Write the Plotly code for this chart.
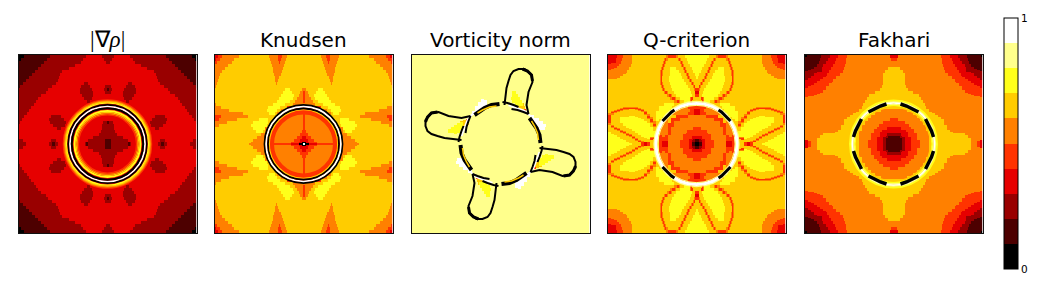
import numpy as np
import plotly.graph_objects as go

titles = ["|∇<i>ρ</i>|", "Knudsen", "Vorticity norm", "Q-criterion", "Fakhari"]
level_colors = ["#000000", "#4d0000", "#990000", "#e60000", "#ff3300",
                "#ff8000", "#ffcc00", "#ffff1a", "#ffff8c", "#ffffff"]
colorbar_ticks = [0, 1]
colorbar_labels = ["0", "1"]

# Each string is one band of a quadrant, written as level:end-column runs.
rho_rows = [
    "0:5 1:31 2:67 3:83 2:89", "0:2 1:28 2:64 3:85 2:89", "1:25 2:62 3:87 2:89",
    "1:22 2:56 3:89", "1:19 2:50 3:89", "1:16 2:43 3:89", "1:13 2:41 3:89",
    "1:10 2:40 3:89", "1:7 2:39 3:89", "1:4 2:37 3:65 2:69 3:89",
    "1:1 2:33 3:62 2:71 3:86 2:89", "2:29 3:61 2:73 3:85 2:88 1:89",
    "2:27 3:61 2:74 3:86 2:89", "2:22 3:63 2:74 3:89", "2:19 3:65 2:73 3:89",
    "2:17 3:68 2:71 3:89", "2:15 3:89", "2:12 3:89", "2:10 3:89", "2:8 3:89",
    "2:5 3:32 2:42 3:89", "2:3 3:30 2:45 3:89", "2:1 3:31 2:47 3:84 2:88 1:89",
    "3:34 2:46 3:83 2:89", "3:38 2:42 3:83 2:89", "3:82 2:89", "3:80 2:89",
    "3:74 2:89", "2:4 3:32 2:37 3:69 2:86 1:89",
    "2:7 3:30 2:33 1:36 2:39 3:66 2:67 1:69 2:86 1:89",
]
knudsen_rows = [
    "3:3 4:7 5:24 6:54 5:63 4:67 5:72 6:89", "3:1 4:5 5:19 6:55 5:63 4:66 5:71 6:89",
    "4:2 5:17 6:56 5:64 4:65 5:70 6:89", "5:13 6:57 5:69 6:89", "5:10 6:58 5:68 6:89",
    "5:7 6:58 5:67 6:89", "5:5 6:59 5:66 6:89", "5:4 6:60 5:64 6:89",
    "5:3 6:60 5:63 6:89", "5:2 6:61 5:62 6:89", "5:1 6:89", "6:70 7:75 6:87 5:89",
    "6:68 7:77 6:85 5:88 4:89", "6:66 7:79 6:84 5:88 4:89", "6:64 7:78 6:82 5:88 4:89",
    "6:62 7:75 6:80 5:88 4:89", "5:1 6:58 7:70 6:78 5:89", "5:6 6:53 7:65 6:72 4:89",
    "5:14 6:52 7:62 6:66 5:80 4:89", "5:28 6:54 7:60 6:62 5:88 4:89", "4:6 5:33 6:64 5:88 4:89",
    "4:4 5:22 6:44 7:53 6:60 5:88 4:89", "5:12 6:38 7:53 6:58 5:88 4:89",
    "5:4 6:36 7:52 6:56 5:88 4:89",
    "6:38 7:50 5:88 4:89", "6:41 7:48 6:50 5:87 4:89", "6:46 5:85 4:89", "6:42 5:82 4:87 3:89",
    "6:38 5:52 4:58 5:79 4:85 3:89", "6:36 5:52 4:58 5:76 4:84 3:87 0:89",
    "6:34 5:52 4:76 3:84 0:88 9:89",
]
knudsen_heights = [3] * 29 + [1, 1]
vorticity_rows = ["8:89"] * 12 + [
    "8:11 7:15 8:89", "8:11 7:17 8:89", "8:10 7:19 8:89", "8:11 7:21 8:89",
    "8:14 7:22 6:23 8:89", "8:17 6:24 8:89", "8:19 6:23 4:25 8:89", "8:89",
    "8:29 9:33 8:89", "8:30 9:38 8:89", "8:32 9:42 8:89", "8:34 9:45 8:89",
    "8:38 9:44 8:89", "8:89", "8:89", "8:89", "8:89", "8:89",
]
qcrit_rows = [
    "3:9 4:15 5:24 6:58 5:60 4:68 5:70 6:77 7:89",
    "3:8 4:14 5:24 6:56 5:57 4:58 5:60 6:70 5:71 4:72 5:73 6:79 7:89",
    "3:8 4:13 5:24 6:55 5:56 4:57 5:58 6:72 5:73 4:74 5:75 6:80 7:89",
    "4:11 5:23 6:54 5:55 4:56 5:57 6:73 5:74 4:75 5:76 6:82 7:89",
    "5:21 6:53 5:54 4:55 5:56 6:62 7:68 6:75 5:76 4:77 5:78 6:84 7:89",
    "5:19 6:52 5:53 4:54 5:55 6:62 7:71 6:76 5:77 4:78 5:79 6:85 7:89",
    "5:16 6:52 5:53 4:54 5:55 6:62 7:73 6:78 5:79 4:80 5:81 6:87 7:89",
    "6:52 5:53 4:54 6:61 7:74 6:79 5:80 4:81 5:82 6:88 7:89",
    "6:52 5:53 4:54 6:61 7:76 6:81 5:82 4:83 5:84 6:89",
    "6:52 5:53 4:54 5:55 6:62 7:78 6:83 5:84 4:85 5:86 6:89",
    "6:53 5:54 4:55 5:56 6:63 7:80 6:85 5:86 4:87 6:89",
    "6:54 5:55 4:56 5:57 6:64 7:82 6:86 5:87 4:89",
    "6:56 5:57 4:59 5:60 6:66 7:83 6:87 3:89",
    "6:59 5:61 4:63 5:64 6:68 7:84 6:87 4:89",
    "6:62 5:64 4:67 5:68 6:72 7:82 5:83 4:85 6:89",
    "6:66 5:69 4:71 5:72 6:76 7:82 5:83 4:84 6:89",
    "6:56 7:66 6:89", "7:64 6:72 5:80 4:89", "7:62 6:66 5:82 4:86 3:89",
    "7:60 5:80 4:86 3:89", "6:68 4:80 5:89", "4:72 5:89", "5:89", "5:89",
    "5:85 4:89", "5:79 4:89", "4:89", "4:84 3:89", "3:85 2:87 1:89", "2:86 1:87 0:89",
]
fakhari_rows = [
    "0:2 1:16 2:25 3:33 4:42 5:85 3:89", "1:15 2:23 3:31 4:41 5:86 4:89",
    "1:14 2:21 3:30 4:41 5:89", "1:12 2:18 3:28 4:40 5:89", "2:17 3:26 4:39 5:83 6:89",
    "2:17 3:24 4:38 5:80 6:89", "3:22 4:35 5:78 6:89", "4:31 5:78 6:89", "4:28 5:78 6:89",
    "5:78 6:89", "5:77 6:89", "5:75 6:89", "5:70 6:89", "5:64 6:89", "5:62 6:89",
    "5:60 6:89", "5:58 6:89", "5:57 6:89", "6:76 5:89", "6:70 5:89", "6:66 5:89",
    "5:85 4:89", "5:78 4:89", "5:74 4:89", "4:82 3:89", "4:77 3:89", "3:82 2:89",
    "2:83 1:89", "1:89", "1:89",
]

# Concentric bands: radius, stroke width, colour level, outermost first.
rho_ring_r = [44, 43, 42, 41, 39.2, 37.5, 35.7, 33, 31.5, 30.2, 29]
rho_ring_w = [1.5, 1.5, 1.5, 1.2, 1.7, 1.7, 2, 2, 1.3, 1.3, 1.2]
rho_ring_l = [4, 5, 6, 7, 0, 9, 0, 7, 6, 5, 4]
knudsen_ring_r = [39, 37.3, 35.5, 34, 31.5]
knudsen_ring_w = [1.8, 1.8, 1.8, 1.2, 4]
knudsen_ring_l = [0, 9, 0, 6, 4]
qcrit_ring_r = [42.4, 40.5, 38.6]
qcrit_ring_w = [1.5, 3, 1]
qcrit_ring_l = [8, 9, 8]
fakhari_ring_r = [43.5, 42, 41, 39.5, 38.5, 37]
fakhari_ring_w = [2, 1.5, 1.5, 1.5, 1.5, 1.5]
fakhari_ring_l = [7, 8, 9, 8, 7, 6]

# Dark dashes, one quadrant of each, as (column, row) readings.
qcrit_dash_x = [55, 58, 61, 64, 67]
qcrit_dash_y = [66, 63, 60, 57, 55]
fakhari_dash_a_x = [64, 70, 76, 82]
fakhari_dash_a_y = [57, 54, 51, 49]
fakhari_dash_b_x = [49, 51, 54, 57]
fakhari_dash_b_y = [82, 76, 70, 64]

# Vorticity overlay: offset right of centre, row from the top, one lobe.
lobe_x = [4, 5, 6, 8, 10, 13, 18, 24, 31, 32, 28, 26, 28]
lobe_y = [50, 42, 33, 26, 20, 16, 14, 14, 20, 27, 37, 50, 59]
lobe_thick_x = [22, 27, 31, 32]
lobe_thick_y = [14, 16, 20, 26]
white_arc_x = [8, 16, 24, 30]
white_arc_y = [50, 53, 56, 61]
arc_a_x = [2, 7, 13, 18]
arc_a_y = [47, 48, 50, 52]
arc_b_x = [11, 17, 23, 28]
arc_b_y = [54, 55, 57, 59]
arc_c_x = [29, 33, 36, 39, 40]
arc_c_y = [63, 68, 73, 80, 88]
arc_core_x = [31, 34, 37, 38]
arc_core_y = [66, 71, 78, 85]

PANEL_LEFT = [18.5, 214.5, 411.5, 607.5, 804.5]
PANEL = 178
C = PANEL / 2
W, H = 1041, 288
TOP, BOTTOM = 55, 233


def quadrant(rows, diagonal=False, heights=None):
    q = np.zeros((89, 89), dtype=int)
    heights = heights or [3] * len(rows)
    start = 0
    for row, h in zip(rows, heights):
        col = 0
        cells = np.zeros(89, dtype=int)
        for run in row.split():
            lev, end = run.split(":")
            cells[col:int(end)] = int(lev)
            col = max(col, int(end))
        if col < 89:
            cells[col:] = cells[col - 1]
        q[start:min(start + h, 89)] = cells
        start += h
    if diagonal:
        low = np.tril_indices(89, -1)
        q[low] = q.T[low]
    return q


def mirrored(q):
    top = np.hstack([q, q[:, ::-1]])
    return np.vstack([top, top[::-1]])


def rotated(tr):
    top = np.hstack([np.rot90(tr, 1), tr])
    bottom = np.hstack([np.rot90(tr, 2), np.rot90(tr, -1)])
    return np.vstack([top, bottom])


grids = [
    mirrored(quadrant(rho_rows)),
    mirrored(quadrant(knudsen_rows, heights=knudsen_heights)),
    rotated(quadrant(vorticity_rows)),
    mirrored(quadrant(qcrit_rows, True)),
    mirrored(quadrant(fakhari_rows, True)),
]

scale = []
for i, c in enumerate(level_colors):
    scale += [[i / 10, c], [(i + 1) / 10, c]]

fig = go.Figure()
centers = np.arange(PANEL) + 0.5
shapes = []
annotations = []
layout_axes = {}
for k, (left, grid) in enumerate(zip(PANEL_LEFT, grids)):
    n = "" if k == 0 else str(k + 1)
    fig.add_trace(go.Heatmap(z=(grid + 0.5) / 10, x=centers, y=centers, coloraxis="coloraxis",
                             xaxis="x" + n, yaxis="y" + n, hoverinfo="skip"))
    common = dict(showline=True, mirror=True, linecolor="#111111", linewidth=1, ticks="",
                  showticklabels=False, showgrid=False, zeroline=False)
    layout_axes["xaxis" + n] = dict(domain=[left / W, (left + PANEL) / W], range=[0, PANEL],
                                    anchor="y" + n, **common)
    layout_axes["yaxis" + n] = dict(domain=[(H - BOTTOM) / H, (H - TOP) / H], range=[PANEL, 0],
                                    anchor="x" + n, **common)
    serif = k == 0
    annotations.append(dict(text=titles[k], xref="paper", yref="paper", x=(left + C) / W,
                            y=(H - 54) / H, xanchor="center", yanchor="bottom", showarrow=False,
                            font=dict(size=23 if serif else 20, color="black",
                                      family="Liberation Serif" if serif else "DejaVu Sans")))


def add_rings(k, radii, widths, levels):
    n = "" if k == 0 else str(k + 1)
    for r, w, l in zip(radii, widths, levels):
        shapes.append(dict(type="circle", xref="x" + n, yref="y" + n, x0=C - r, x1=C + r,
                           y0=C - r, y1=C + r, line=dict(color=level_colors[l], width=w),
                           fillcolor="rgba(0,0,0,0)", layer="above"))


def add_dash(k, xs, ys, width):
    n = "" if k == 0 else str(k + 1)
    for fx in (False, True):
        for fy in (False, True):
            px = [PANEL - x if fx else x for x in xs]
            py = [PANEL - y if fy else y for y in ys]
            path = "M " + " L ".join(f"{a} {b}" for a, b in zip(px, py))
            shapes.append(dict(type="path", xref="x" + n, yref="y" + n, path=path,
                               line=dict(color="black", width=width), layer="above"))


add_rings(0, rho_ring_r, rho_ring_w, rho_ring_l)
add_rings(1, knudsen_ring_r, knudsen_ring_w, knudsen_ring_l)
add_rings(3, qcrit_ring_r, qcrit_ring_w, qcrit_ring_l)
add_dash(3, qcrit_dash_x, qcrit_dash_y, 3)
add_rings(4, fakhari_ring_r, fakhari_ring_w, fakhari_ring_l)
add_dash(4, fakhari_dash_a_x, fakhari_dash_a_y, 3.5)
add_dash(4, fakhari_dash_b_x, fakhari_dash_b_y, 3.5)


def add_rotated(xs, ys, color, width):
    dx, dy = np.array(xs, float), np.array(ys, float) - C
    for _ in range(4):
        fig.add_trace(go.Scatter(x=C + dx, y=C + dy, mode="lines", xaxis="x3", yaxis="y3",
                                 line=dict(color=color, width=width), hoverinfo="skip",
                                 showlegend=False))
        dx, dy = -dy, dx


add_rotated(white_arc_x, white_arc_y, "#ffffff", 2)
add_rotated(lobe_x, lobe_y, "#000000", 2)
add_rotated(lobe_thick_x, lobe_thick_y, "#000000", 3)
add_rotated(arc_a_x, arc_a_y, "#000000", 2)
add_rotated(arc_b_x, arc_b_y, "#000000", 2)
add_rotated(arc_c_x, arc_c_y, "#000000", 4)
add_rotated(arc_core_x, arc_core_y, level_colors[6], 1.5)

fig.update_layout(
    width=W, height=H, margin=dict(l=0, r=0, t=0, b=0), paper_bgcolor="white", plot_bgcolor="white",
    showlegend=False, shapes=shapes, annotations=annotations,
    font=dict(family="DejaVu Sans", color="black"),
    coloraxis=dict(cmin=0, cmax=1, colorscale=scale, colorbar=dict(
        x=1003.5 / W, xanchor="left", y=(H - 18) / H, yanchor="top", thickness=14,
        thicknessmode="pixels", len=251, lenmode="pixels", xpad=0, ypad=0,
        outlinecolor="black", outlinewidth=1, tickmode="array", tickvals=colorbar_ticks,
        ticktext=colorbar_labels, ticks="", tickfont=dict(size=10.5, color="black"))),
    **layout_axes,
)
fig.write_html("out.html", config={"displayModeBar": False},
               post_script="document.body.style.margin='0';")
